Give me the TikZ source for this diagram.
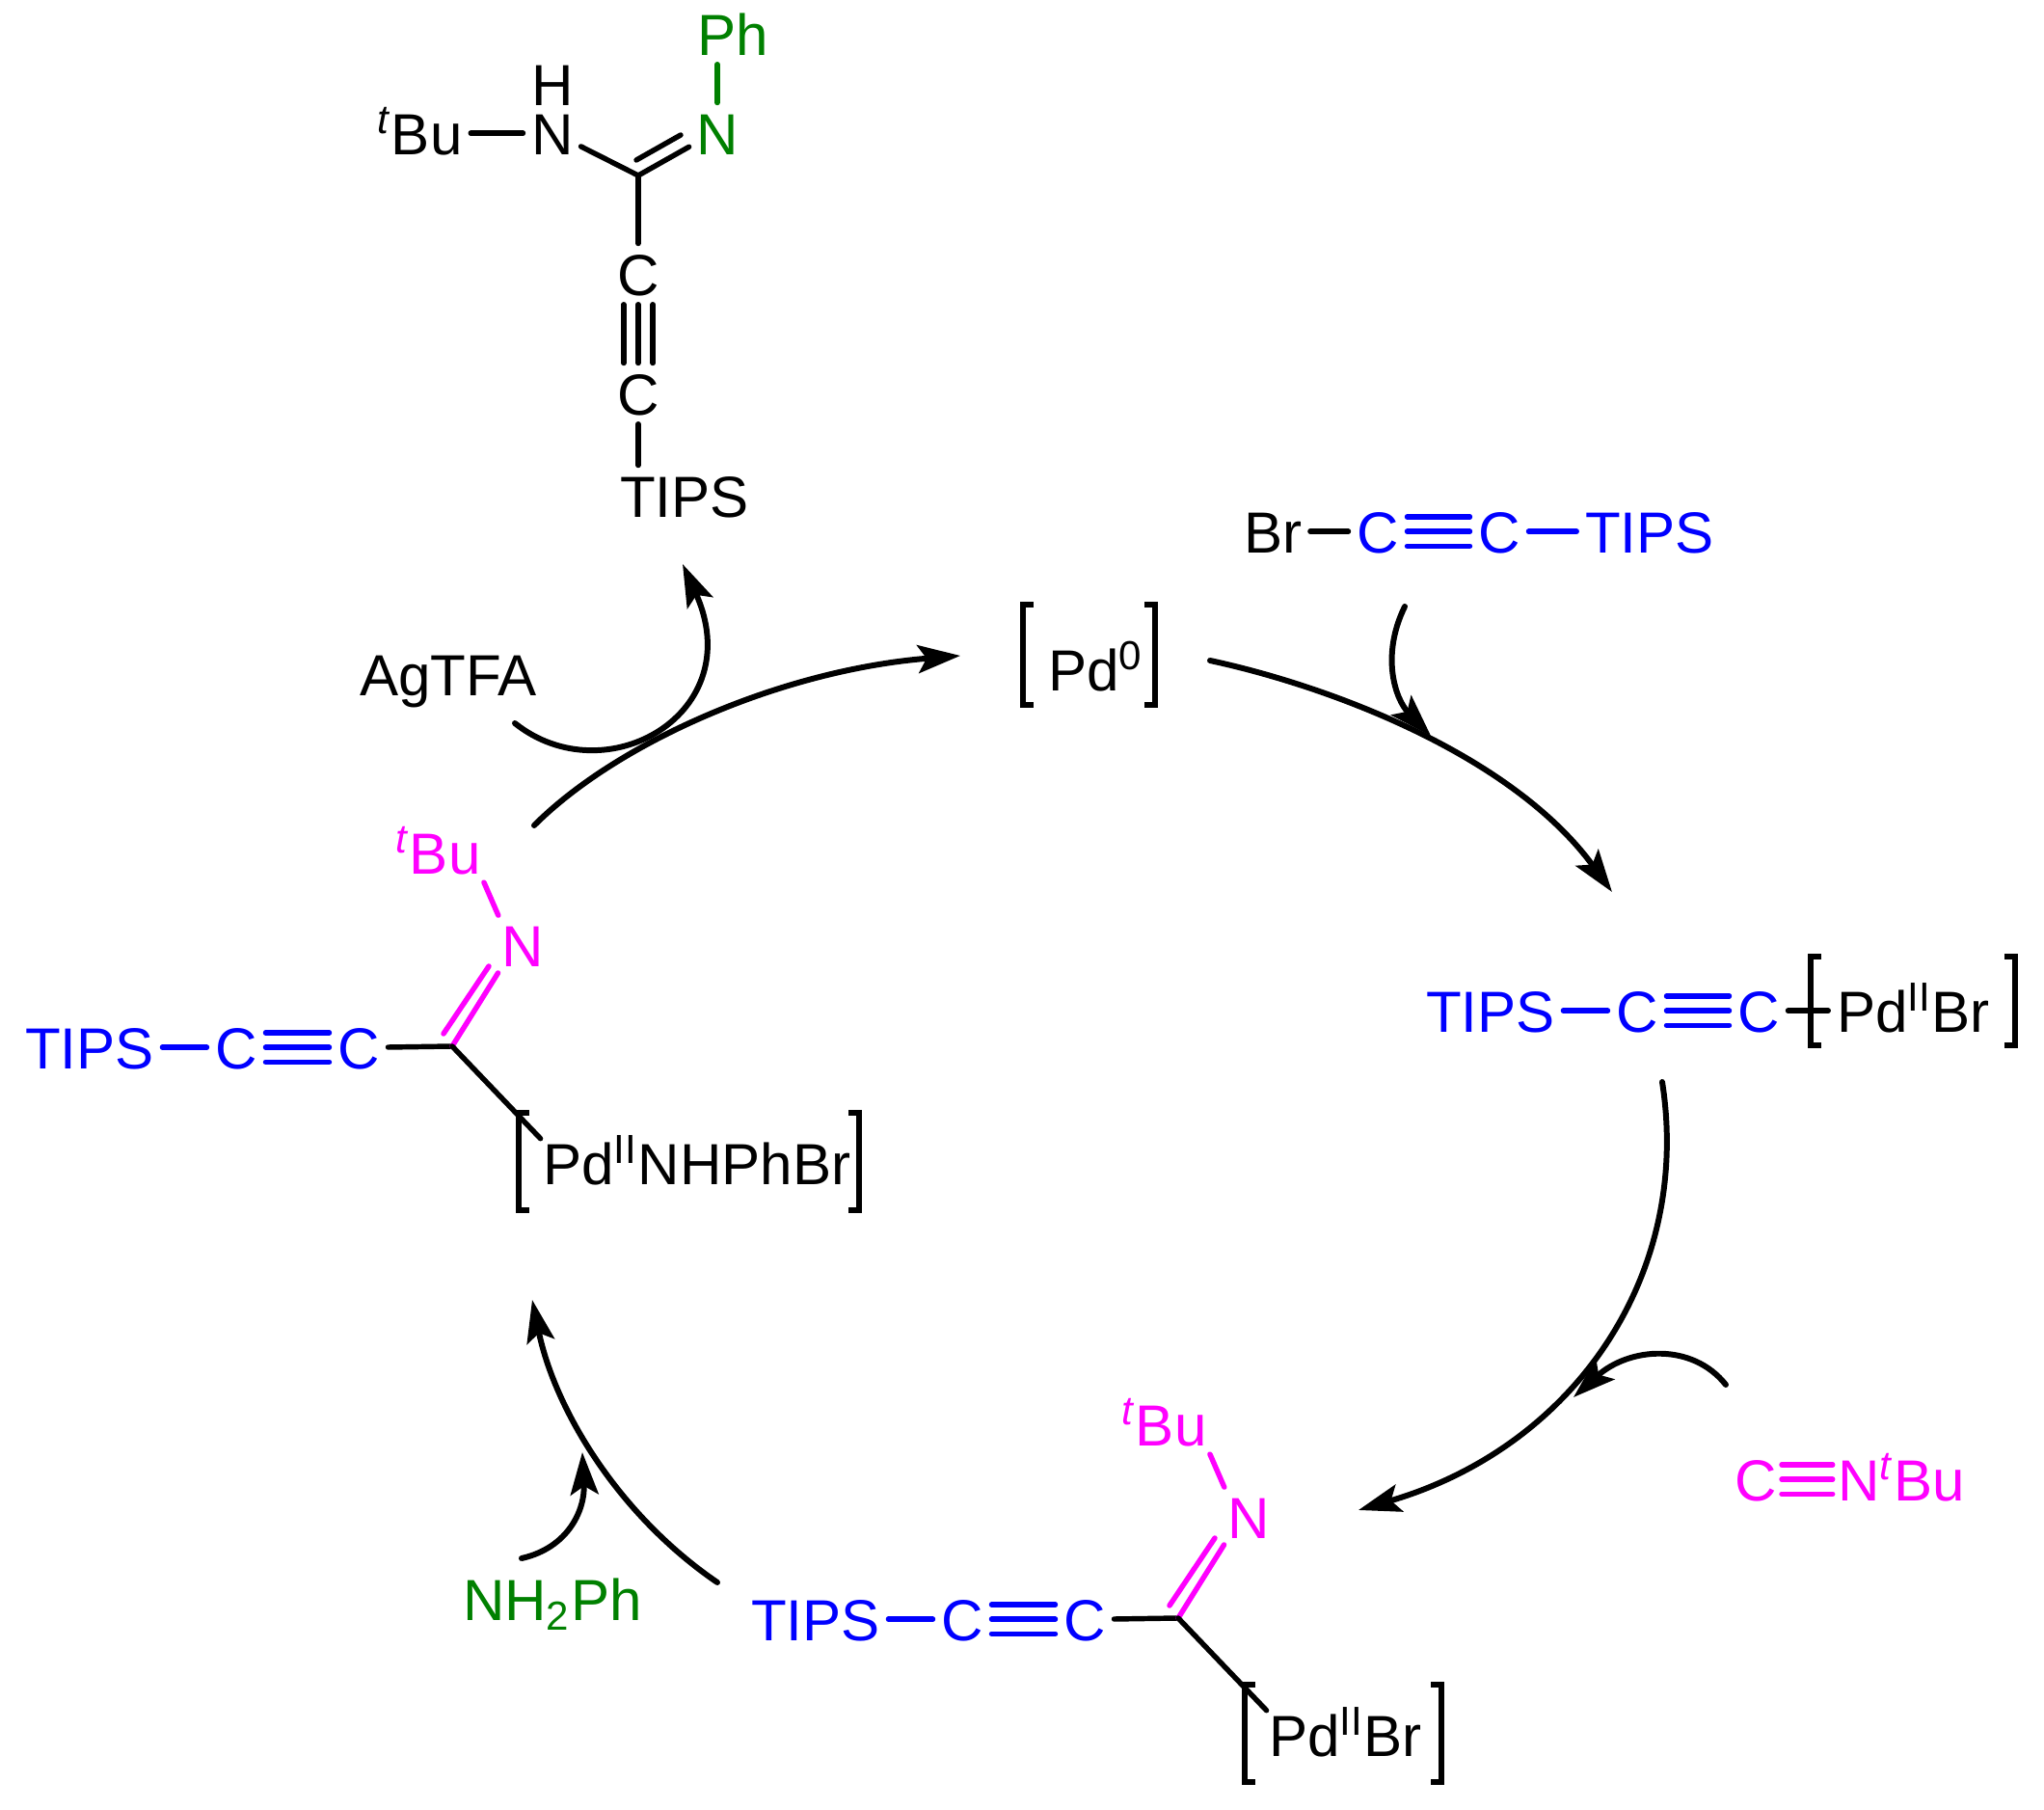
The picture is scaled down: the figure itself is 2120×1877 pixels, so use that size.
\documentclass[tikz,border=0pt]{standalone}
\usepackage{fontspec}
\setmainfont{Liberation Sans}
\usetikzlibrary{arrows.meta, positioning}
\definecolor{alkyne}{RGB}{0,0,255}
\definecolor{imine}{RGB}{255,0,255}
\definecolor{amine}{RGB}{0,128,0}
\newcommand{\Sup}[1]{\textsuperscript{#1}}
\newcommand{\TBu}{\textsuperscript{\textit{t}}Bu}
\tikzset{
    atom/.style={inner sep=0pt, outer sep=0pt, text height=13pt, text depth=0pt, anchor=base, font=\fontsize{17.1}{18}\selectfont},
    atomw/.style={atom, anchor=base west},
    bond/.style={line width=1.55pt, line cap=round},
    gap/.style={shorten <=2.5pt, shorten >=2.5pt},
    brack/.style={line width=1.9pt},
    arc/.style={line width=1.7pt, line cap=round, -{Stealth[length=0.44cm, width=0.29cm, inset=0.09cm]}},
    imine chain/.pic={
        \node[atomw, text=alkyne] (tips) at (26,1109) {TIPS};
        \node[atom, text=alkyne] (c1) at (245,1109) {C};
        \node[atom, text=alkyne] (c2) at (372,1109) {C};
        \coordinate (v) at (469,1085);
        \node[atom, text=imine] (n) at (542,1003) {N};
        \node[atomw, text=imine] (tbu) at (410,907) {\TBu};
        \node[atomw] (pd) at (563,1229) {#1};
        \coordinate (vd1) at (460,1072);
        \coordinate (vd2) at (507,1002);
        \draw[bond, gap, alkyne] (tips.east) -- (c1.west);
        \foreach \s in {-4.3pt, 0pt, 4.3pt}
            \draw[bond, gap, alkyne] ([yshift=\s]c1.east) -- ([yshift=\s]c2.west);
        \draw[bond, shorten <=2.5pt] (c2.east) -- (v);
        \draw[bond, imine, shorten >=2pt] (v) -- (n.south west);
        \draw[bond, imine] (vd1) -- (vd2);
        \draw[bond, gap, imine] (tbu.south east) -- (n.north west);
        \draw[bond, shorten >=1pt] (v) -- (pd.north west);
        \draw[brack] (549,1154) -- (538,1154) -- (538,1255) -- (549,1255);
    },
}

\begin{document}
\begin{tikzpicture}[x=0.01cm, y=-0.01cm]
    \useasboundingbox (0,0) rectangle (2120,1877);

    % product
    \node[atom, text=amine] (ph) at (760,58) {Ph};
    \node[atom, text=amine] (ng) at (744,161) {N};
    \node[atom] (h) at (573,110) {H};
    \node[atom] (na) at (573,161) {N};
    \node[atomw] (tbua) at (391,161) {\TBu};
    \coordinate (va) at (662,182);
    \coordinate (vb1) at (660,166);
    \coordinate (vb2) at (706,140);
    \node[atom] (ca) at (662,307) {C};
    \node[atom] (cb) at (662,431) {C};
    \node[atomw] (tipsa) at (643,537) {TIPS};

    \draw[bond, gap, amine] (ng.north) -- (ng.north |- ph.south);
    \draw[bond, gap] (tbua.east) -- (na.west);
    \draw[bond, shorten <=2.5pt] ([yshift=-2.8pt]na.east) -- (va);
    \draw[bond, shorten >=2.5pt] (va) -- ([yshift=-2.8pt]ng.west);
    \draw[bond] (vb1) -- (vb2);
    \draw[bond, shorten >=2.5pt] (va) -- (ca.north);
    \foreach \s in {-4.3pt, 0pt, 4.3pt}
        \draw[bond, gap] ([xshift=\s]ca.south) -- ([xshift=\s]cb.north);
    \draw[bond, gap] (cb.south) -- (cb.south |- tipsa.north);

    % bromoalkyne
    \node[atomw] (br) at (1290,574) {Br};
    \node[atom, text=alkyne] (cc) at (1429,574) {C};
    \node[atom, text=alkyne] (cd) at (1555,574) {C};
    \node[atomw, text=alkyne] (tipsb) at (1644,574) {TIPS};
    \draw[bond, gap] (br.east) -- (cc.west);
    \foreach \s in {-4.3pt, 0pt, 4.3pt}
        \draw[bond, gap, alkyne] ([yshift=\s]cc.east) -- ([yshift=\s]cd.west);
    \draw[bond, gap, alkyne] (cd.east) -- (tipsb.west);

    % oxidative addition product
    \node[atomw, text=alkyne] (tipsc) at (1479,1071) {TIPS};
    \node[atom, text=alkyne] (ce) at (1698,1071) {C};
    \node[atom, text=alkyne] (cf) at (1824,1071) {C};
    \node[atomw] (pdb) at (1905,1071) {Pd\Sup{II}Br};
    \draw[bond, gap] (cf.east) -- (pdb.west);
    \draw[bond, gap, alkyne] (tipsc.east) -- (ce.west);
    \foreach \s in {-4.3pt, 0pt, 4.3pt}
        \draw[bond, gap, alkyne] ([yshift=\s]ce.east) -- ([yshift=\s]cf.west);
    \draw[brack] (1889,992) -- (1878,992) -- (1878,1084) -- (1889,1084);
    \draw[brack] (2079,992) -- (2090,992) -- (2090,1084) -- (2079,1084);

    % imine chains
    \pic (low) at (753,593) {imine chain={Pd\Sup{II}Br}};
    \draw[brack] (1484,1747) -- (1495,1747) -- (1495,1848) -- (1484,1848);
    \pic (lft) at (0,0) {imine chain={Pd\Sup{II}NHPhBr}};
    \draw[brack] (880,1154) -- (891,1154) -- (891,1255) -- (880,1255);

    % catalyst and reagents
    \node[atomw] (pdz) at (1087,717) {Pd\Sup{0}};
    \draw[brack] (1072,627) -- (1061,627) -- (1061,731) -- (1072,731);
    \draw[brack] (1187,627) -- (1198,627) -- (1198,731) -- (1187,731);
    \node[atomw] (ag) at (373,722) {AgTFA};
    \node[atomw, text=amine] (nh) at (480,1681) {NH\textsubscript{2}Ph};
    \node[atom, text=imine] (cg) at (1821,1557) {C};
    \node[atomw, text=imine] (nt) at (1906,1557) {N\TBu};
    \foreach \s in {-4.3pt, 0pt, 4.3pt}
        \draw[bond, gap, imine, shorten <=1.5pt, shorten >=1.5pt] ([yshift=\s]cg.east) -- ([yshift=\s]nt.west);

    % cycle
    \coordinate (ra) at (1255,685);
    \coordinate (rb) at (1672,925);
    \coordinate (rc) at (1724,1122);
    \coordinate (rd) at (1409,1566);
    \coordinate (re) at (744,1641);
    \coordinate (rf) at (552,1348);
    \coordinate (rg) at (554,856);
    \coordinate (rh) at (996,680);
    \draw[arc] (ra) .. controls (1385,713) and (1570,785) .. (rb);
    \draw[arc] (rc) .. controls (1755,1320) and (1635,1500) .. (rd);
    \draw[arc] (re) .. controls (640,1570) and (575,1460) .. (rf);
    \draw[arc] (rg) .. controls (640,770) and (810,695) .. (rh);

    % side arrows
    \coordinate (sa) at (1457,629);
    \coordinate (sb) at (1484,763);
    \coordinate (sc) at (1790,1436);
    \coordinate (sd) at (1632,1449);
    \coordinate (se) at (541,1616);
    \coordinate (sf) at (604,1506);
    \coordinate (sg) at (534,750);
    \coordinate (sh) at (708,585);
    \draw[arc] (sa) .. controls (1432,680) and (1447,725) .. (sb);
    \draw[arc] (sc) .. controls (1755,1392) and (1690,1397) .. (sd);
    \draw[arc] (se) .. controls (590,1605) and (607,1565) .. (sf);
    \draw[arc] (sg) .. controls (628,825) and (778,740) .. (sh);
\end{tikzpicture}
\end{document}
